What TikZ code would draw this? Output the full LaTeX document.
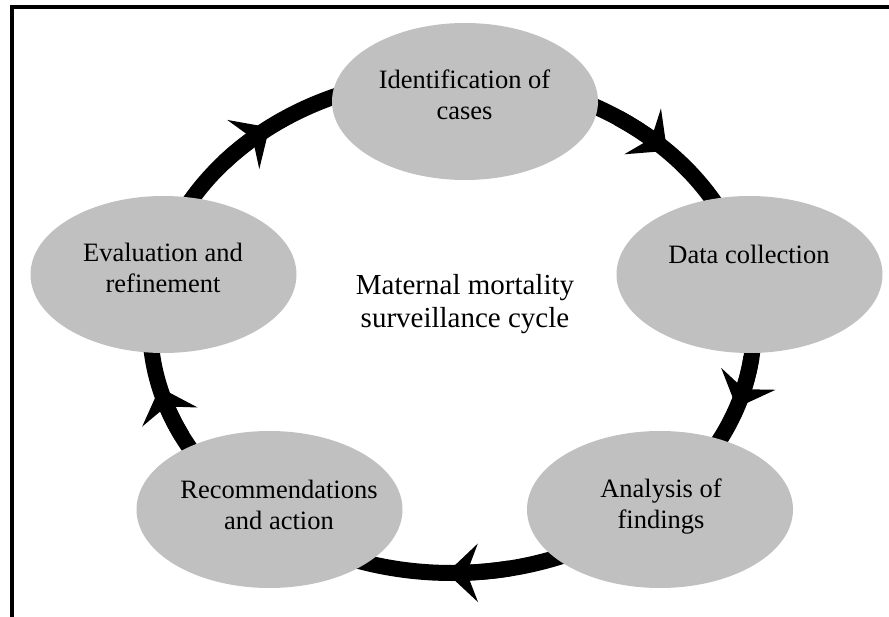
\documentclass[tikz,border=0pt]{standalone}
\usepackage{fontspec}
\setmainfont{Liberation Serif}
\usetikzlibrary{shapes.geometric,arrows.meta}
\definecolor{nodegray}{HTML}{C0C0C0}
\begin{document}
\begin{tikzpicture}[x=1pt,y=-1pt,
  stagebox/.style={ellipse, fill=nodegray, draw=none, minimum width=266pt, minimum height=157pt, inner sep=0pt},
  stagetext/.style={align=center, font=\fontsize{26.5}{31}\selectfont, inner sep=0pt},
  centertext/.style={align=center, font=\fontsize{29}{33}\selectfont, inner sep=0pt},
  ringline/.style={line width=16pt},
  ringhead/.style={line width=16pt, -{Stealth[length=31pt,width=58pt,inset=11pt]}},
  frameline/.style={line width=4pt, line join=miter}]
\useasboundingbox (0,0) rectangle (889,617);
\draw[frameline] (889,7) -| (12,617);

% ring (clockwise)
\coordinate (ringc) at (452,325);
\draw[ringline] (ringc) ellipse[x radius=302, y radius=248];
% arrow heads along the ring
\foreach \a in {232.8,315.4,379.5,451,525.4}{
  \draw[ringhead] plot[domain=\a-12:\a, samples=6, variable=\t] ({452+302*cos(\t)},{325+248*sin(\t)});
}

% stages
\node[stagebox] (id) at (465,101.5) {};
\node[stagebox] (dc) at (749.5,274.5) {};
\node[stagebox] (af) at (660,509.5) {};
\node[stagebox] (ra) at (269.5,509.5) {};
\node[stagebox] (er) at (163.5,274.5) {};

\node[stagetext] (id-t) at (464.5,94.5) {Identification of\\cases};
\node[stagetext] (dc-t) at (749,254) {Data collection};
\node[stagetext] (af-t) at (661,506.5) {Analysis of\\findings};
\node[stagetext] (ra-t) at (279,505) {Recommendations\\and action};
\node[stagetext] (er-t) at (163,268) {Evaluation and\\refinement};

\node[centertext] (title) at (465,304.5) {Maternal mortality\\surveillance cycle};
\end{tikzpicture}
\end{document}
